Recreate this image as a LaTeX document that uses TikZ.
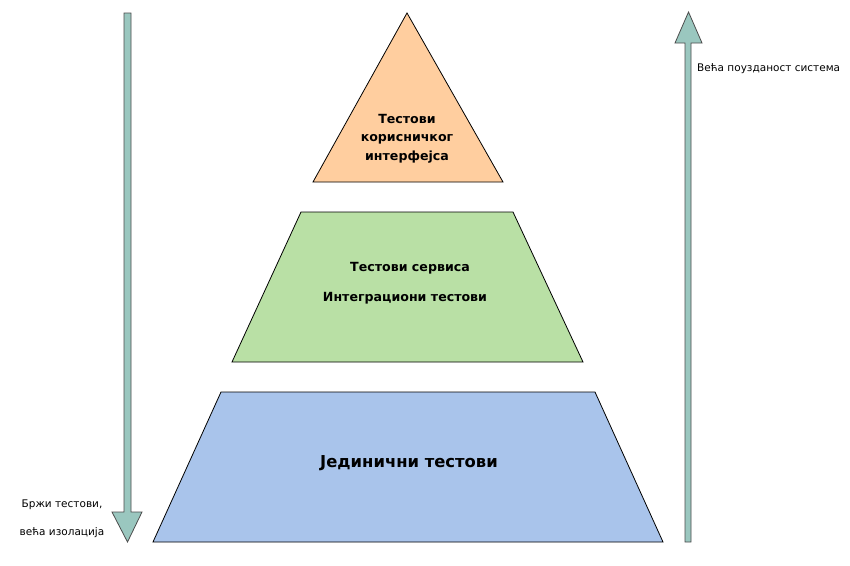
\documentclass[tikz,border=0pt]{standalone}
\usepackage{fontspec}
\setmainfont{DejaVu Sans}
\begin{document}
\begin{tikzpicture}[x=1pt,y=-1pt,
  layer/.style={draw=black,line width=0.8pt,line join=miter},
  arr/.style={draw=black!70,fill=arrowfill,line width=0.8pt},
  lbl/.style={font=\bfseries\fontsize{12.6}{18.5}\selectfont,align=center,inner sep=0},
  side/.style={font=\fontsize{10.5}{12}\selectfont,inner sep=0}]
\definecolor{peach}{HTML}{FFCE9F}
\definecolor{greenl}{HTML}{B9E0A5}
\definecolor{bluel}{HTML}{A9C4EB}
\definecolor{arrowfill}{HTML}{9AC7BF}
\useasboundingbox[fill=white] (0,0) rectangle (850,565);
% pyramid
\draw[layer,fill=peach] (407,13) -- (503,182) -- (313,182) -- cycle;
\draw[layer,fill=greenl] (301,212) -- (513,212) -- (583,362) -- (232,362) -- cycle;
\draw[layer,fill=bluel] (221,392) -- (595,392) -- (663,542) -- (153,542) -- cycle;
\node[lbl] (ui) at (407,138.5) {Тестови\\корисничког\\интерфејса};
\node[lbl] (svc) at (410,268) {Тестови сервиса};
\node[lbl] (int) at (405,298) {Интеграциони тестови};
\node[lbl,font=\bfseries\fontsize{16.4}{19}\selectfont] (unit) at (409,463) {Јединични тестови};
% left arrow (down)
\draw[arr] (124,13) -- (131,13) -- (131,512) -- (142,512) -- (127.5,542) -- (112,512) -- (124,512) -- cycle;
% right arrow (up)
\draw[arr] (685,542) -- (691,542) -- (691,43) -- (702,43) -- (688.5,12) -- (675,43) -- (685,43) -- cycle;
\node[side,anchor=west] (rel) at (697,69) {Већа поузданост система};
\node[side] (fast) at (62,505) {Бржи тестови,};
\node[side] (iso) at (62,533) {већа изолација};
\end{tikzpicture}
\end{document}
